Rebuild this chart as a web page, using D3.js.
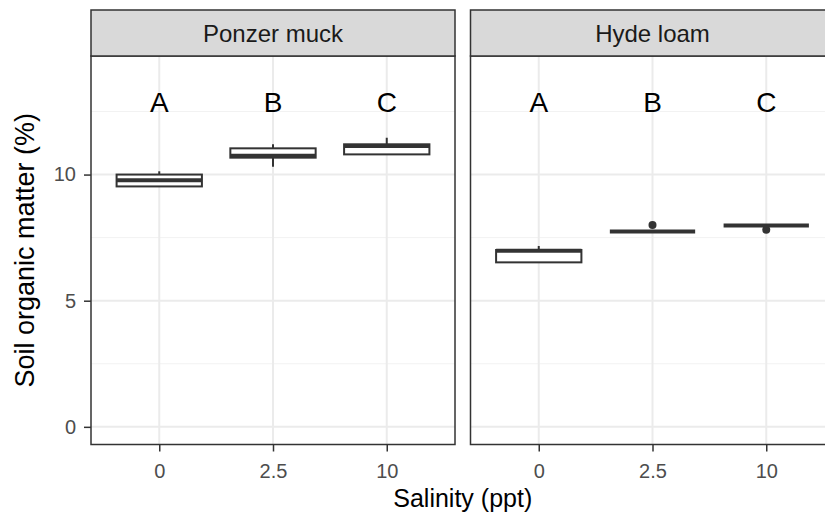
<!DOCTYPE html>
<html>
<head>
<meta charset="utf-8">
<script src="https://cdn.jsdelivr.net/npm/d3@7"></script>
<style>
  html, body { margin: 0; padding: 0; background: #fff; }
  svg { display: block; font-family: "Liberation Sans", Arial, sans-serif; }
</style>
</head>
<body>
<svg id="chart" width="825" height="521"></svg>
<script>
// ---- data ----
const soils = ["Ponzer muck", "Hyde loam"];
const salinity = ["0", "2.5", "10"];
const letters = ["A", "B", "C"];
const letterY = 13;
const yTicks = [0, 5, 10];
// box stats per soil, per salinity: [lowerWhisker, q1, median, q3, upperWhisker]
const ponzerStats = [
  [9.53, 9.53, 9.77, 10.0, 10.13],
  [10.31, 10.67, 10.75, 11.04, 11.2],
  [10.8, 10.8, 11.13, 11.2, 11.46]
];
const hydeStats = [
  [6.52, 6.52, 6.98, 7.01, 7.17],
  [7.74, 7.74, 7.74, 7.74, 7.74],
  [7.98, 7.98, 7.98, 7.98, 7.98]
];
const ponzerOutliers = [[], [], []];
const hydeOutliers = [[], [8.0], [7.81]];

// ---- layout ----
const svg = d3.select("#chart");
const panelW = 364, panelTop = 56, panelBottom = 444.5, stripTop = 10;
const panelLefts = [91, 470.5];
const dark = "#333333";

const x = d3.scalePoint().domain(salinity).range([0, panelW]).padding(0.6);
const y = d3.scaleLinear().domain([-0.7, 14.7]).range([panelBottom, panelTop]);
const boxW = x.step() * 0.75;

const statsBySoil = [ponzerStats, hydeStats];
const outBySoil = [ponzerOutliers, hydeOutliers];

soils.forEach((soil, i) => {
  const g = svg.append("g").attr("transform", `translate(${panelLefts[i]},0)`);
  g.append("rect").attr("x", 0).attr("y", panelTop).attr("width", panelW)
    .attr("height", panelBottom - panelTop).attr("fill", "#fff");
  // minor grid
  const minor = [2.5, 7.5, 12.5];
  g.selectAll(".minor").data(minor).join("line")
    .attr("x1", 0).attr("x2", panelW)
    .attr("y1", d => y(d)).attr("y2", d => y(d))
    .attr("stroke", "#F2F2F2").attr("stroke-width", 1);
  // major grid
  g.selectAll(".majorY").data(yTicks).join("line")
    .attr("x1", 0).attr("x2", panelW)
    .attr("y1", d => y(d)).attr("y2", d => y(d))
    .attr("stroke", "#EBEBEB").attr("stroke-width", 2);
  g.selectAll(".majorX").data(salinity).join("line")
    .attr("x1", d => x(d)).attr("x2", d => x(d))
    .attr("y1", panelTop).attr("y2", panelBottom)
    .attr("stroke", "#EBEBEB").attr("stroke-width", 2);

  // letters
  g.selectAll(".letter").data(letters).join("text")
    .attr("x", (d, j) => x(salinity[j]))
    .attr("y", y(letterY)).attr("dy", "0.48em")
    .attr("text-anchor", "middle").attr("font-size", 28).attr("fill", "#000")
    .text(d => d);

  // boxes
  const stats = statsBySoil[i];
  stats.forEach((s, j) => {
    const cx = x(salinity[j]);
    const [lw, q1, med, q3, uw] = s;
    if (uw > q3) g.append("line").attr("x1", cx).attr("x2", cx).attr("y1", y(q3)).attr("y2", y(uw))
      .attr("stroke", dark).attr("stroke-width", 2);
    if (lw < q1) g.append("line").attr("x1", cx).attr("x2", cx).attr("y1", y(q1)).attr("y2", y(lw))
      .attr("stroke", dark).attr("stroke-width", 2);
    g.append("rect").attr("x", cx - boxW / 2).attr("width", boxW)
      .attr("y", y(q3)).attr("height", Math.max(0, y(q1) - y(q3)))
      .attr("fill", "#fff").attr("stroke", dark).attr("stroke-width", 2);
    g.append("line").attr("x1", cx - boxW / 2).attr("x2", cx + boxW / 2)
      .attr("y1", y(med)).attr("y2", y(med))
      .attr("stroke", dark).attr("stroke-width", 4);
    outBySoil[i][j].forEach(o => {
      g.append("circle").attr("cx", cx).attr("cy", y(o)).attr("r", 4).attr("fill", dark);
    });
  });

  // panel border
  g.append("rect").attr("x", 0).attr("y", panelTop).attr("width", panelW)
    .attr("height", panelBottom - panelTop).attr("fill", "none")
    .attr("stroke", dark).attr("stroke-width", 1.5);
  // strip
  g.append("rect").attr("x", 0).attr("y", stripTop).attr("width", panelW)
    .attr("height", panelTop - stripTop).attr("fill", "#D9D9D9")
    .attr("stroke", dark).attr("stroke-width", 1.5);
  g.append("text").attr("x", panelW / 2).attr("y", (stripTop + panelTop) / 2).attr("dy", "0.36em")
    .attr("text-anchor", "middle").attr("font-size", 24).attr("fill", "#1A1A1A").text(soil);

  // x axis
  const xAxis = g.append("g").attr("transform", `translate(0,${panelBottom})`)
    .call(d3.axisBottom(x).tickSize(7).tickPadding(12));
  xAxis.select(".domain").remove();
  xAxis.selectAll(".tick line").attr("stroke", dark).attr("stroke-width", 1.5);
  xAxis.selectAll(".tick text").attr("font-size", 20).attr("fill", "#4D4D4D")
    .attr("font-family", "Liberation Sans, Arial, sans-serif");
});

// y axis (left panel only)
const yAxis = svg.append("g").attr("transform", `translate(${panelLefts[0]},0)`)
  .call(d3.axisLeft(y).tickValues(yTicks).tickSize(7).tickPadding(8));
yAxis.select(".domain").remove();
yAxis.selectAll(".tick line").attr("stroke", dark).attr("stroke-width", 1.5);
yAxis.selectAll(".tick text").attr("font-size", 20).attr("fill", "#4D4D4D")
  .attr("font-family", "Liberation Sans, Arial, sans-serif");

// axis titles
svg.append("text").attr("x", panelLefts[0] + (panelLefts[1] + panelW - panelLefts[0]) / 2)
  .attr("y", 507).attr("text-anchor", "middle").attr("font-size", 25).attr("fill", "#000")
  .text("Salinity (ppt)");
svg.append("text").attr("transform", `translate(34,${(panelTop + panelBottom) / 2}) rotate(-90)`)
  .attr("text-anchor", "middle").attr("font-size", 27).attr("fill", "#000")
  .text("Soil organic matter (%)");
</script>
</body>
</html>
